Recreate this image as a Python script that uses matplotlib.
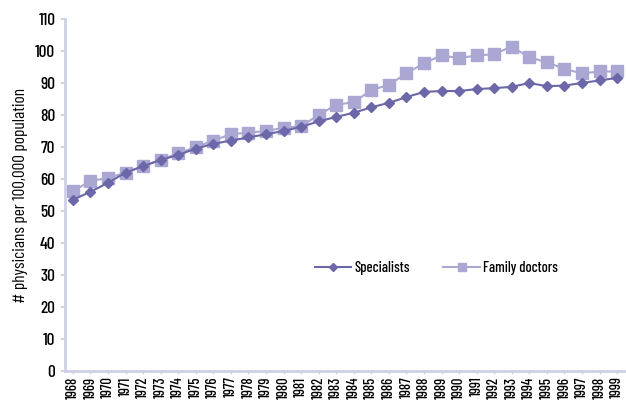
import matplotlib
matplotlib.use("Agg")
import matplotlib.pyplot as plt
from matplotlib import font_manager

years = list(range(1968, 2000))
specialists = [53.5, 56, 58.8, 62, 64, 66, 67.5, 69.5, 71, 72, 73, 74, 75, 76.3, 78,
               79.4, 80.7, 82.4, 83.8, 85.6, 87.2, 87.5, 87.5, 88.1, 88.4, 88.8, 90,
               89, 89.2, 90, 90.8, 91.6]
family = [56.2, 59.4, 60.3, 62, 64, 66, 68, 70, 72, 74, 74.5, 75, 76, 76.5, 80,
          83.2, 84, 87.8, 89.4, 93, 96.2, 98.6, 97.8, 98.6, 99, 101.4, 98, 96.5,
          94.4, 93, 93.6, 93.6]
yticks = list(range(0, 111, 10))

names = {f.name for f in font_manager.fontManager.ttflist}
cands = [n for n in ["Barlow Condensed", "Archivo Narrow", "Encode Sans Condensed"] if n in names]
plt.rcParams['font.family'] = cands[:1] + ['DejaVu Sans']
plt.rcParams['font.weight'] = 'medium'

spec_col = "#6b67a9"
fam_col = "#aaa8d2"
axis_col = "#cfcfe6"

fig = plt.figure(figsize=(6.26, 4.05), dpi=100)
ax = fig.add_axes([65/626, 34/405, 560/626, 352/405])
ax.plot(years, family, color=fam_col, marker="s", markersize=8, linewidth=1.5,
        label="Family doctors", zorder=2)
ax.plot(years, specialists, color=spec_col, marker="D", markersize=5, linewidth=1.5,
        label="Specialists", zorder=3)

ax.set_xlim(1967.55, 1999.45)
ax.set_ylim(0, 110)
ax.set_yticks(yticks)
ax.set_xticks(years)
ax.set_xticklabels([str(y) for y in years], rotation=90, fontsize=10.5)
ax.tick_params(axis="y", labelsize=12.5, color=axis_col, length=3, width=1.5, pad=4)
ax.tick_params(axis="x", color=axis_col, length=2, width=1, pad=2)
for s in ["top", "right"]:
    ax.spines[s].set_visible(False)
for s in ["left", "bottom"]:
    ax.spines[s].set_color(axis_col)
    ax.spines[s].set_linewidth(2)
ax.set_ylabel("# physicians per 100,000 population", fontsize=12.5, labelpad=5)

h, l = ax.get_legend_handles_labels()
ax.legend(h[::-1], l[::-1], ncol=2, frameon=False, fontsize=10.5,
          loc="center", bbox_to_anchor=(0.663, 0.293), handlelength=2.5,
          columnspacing=2.3, handletextpad=0.2, markerscale=0.8)

fig.savefig("out.png", dpi=100)
